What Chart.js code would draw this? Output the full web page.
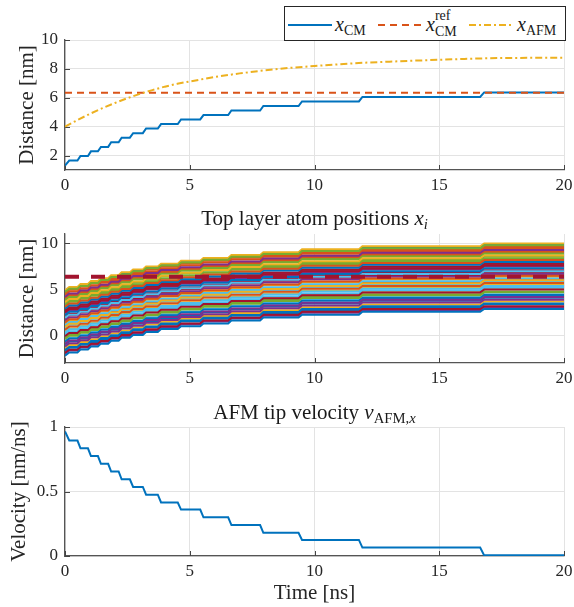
<!DOCTYPE html>
<html>
<head>
<meta charset="utf-8">
<script src="https://cdn.jsdelivr.net/npm/chart.js@4"></script>
<style>
  body { margin: 0; background: #fff; }
  #wrap { position: relative; width: 574px; height: 607px; font-family: "Liberation Serif", serif; color: #1a1a1a; }
  canvas { position: absolute; left: 0; }
  .ttl { position: absolute; left: 65px; width: 499px; text-align: center; font-size: 21px; line-height: 24px; }
  .s { font-size: 0.7em; position: relative; top: 0.3em; }
  .sc { position: relative; display: inline-block; font-size: 0.7em; }
  .sc .dn { position: relative; top: 0.35em; }
  .sc .up { position: absolute; left: 0; top: -0.8em; }
  #legend { position: absolute; left: 284px; top: 6px; width: 280px; height: 33px; border: 1px solid #262626; background: #fff; z-index: 2; }
  #legend svg { position: absolute; top: 16px; }
  #legend .lg { position: absolute; top: 7px; font-size: 20px; line-height: 20px; white-space: nowrap; }
</style>
</head>
<body>
<div id="wrap">
  <canvas id="c1" width="574" height="200" style="top:0"></canvas>
  <canvas id="c2" width="574" height="193" style="top:200px"></canvas>
  <canvas id="c3" width="574" height="214" style="top:393px"></canvas>

  <div id="legend">
    <svg style="left:3px" width="44" height="4"><line x1="0" y1="2" x2="44" y2="2" stroke="#0072BD" stroke-width="2"/></svg>
    <span class="lg" style="left:50px"><i>x</i><span class="s">CM</span></span>
    <svg style="left:93px" width="44" height="4"><line x1="0" y1="2" x2="44" y2="2" stroke="#D95319" stroke-width="2" stroke-dasharray="7 5"/></svg>
    <span class="lg" style="left:141px"><i>x</i><span class="sc"><span class="up">ref</span><span class="dn">CM</span></span></span>
    <svg style="left:184px" width="44" height="4"><line x1="0" y1="2" x2="44" y2="2" stroke="#EDB120" stroke-width="2" stroke-dasharray="7 3 2 3"/></svg>
    <span class="lg" style="left:232px"><i>x</i><span class="s">AFM</span></span>
  </div>

  <div class="ttl" style="top:206px">Top layer atom positions <i>x</i><span class="s"><i>i</i></span></div>
  <div class="ttl" style="top:400px">AFM tip velocity <i>v</i><span class="s">AFM,<i>x</i></span></div>
</div>

<script>
// step times of the AFM tip / CM jumps (start and end of each ramp), ns
const stepOn  = [0.00, 0.50, 0.92, 1.32, 1.73, 2.15, 2.60, 3.12, 3.72, 4.52, 5.42, 6.54, 7.82, 9.36, 11.78, 16.64];
const stepOff = [0.17, 0.62, 1.04, 1.44, 1.85, 2.27, 2.73, 3.25, 3.85, 4.65, 5.55, 6.67, 7.95, 9.50, 11.92, 16.80];

// centre of mass level between steps, nm
const cmLevels = [1.30, 1.65, 1.97, 2.29, 2.60, 2.92, 3.24, 3.55, 3.87, 4.18, 4.50, 4.80, 5.12, 5.43, 5.75, 6.06, 6.37];
// tip velocity level between steps, nm/ns
const velLevels = [0.965, 0.895, 0.835, 0.775, 0.715, 0.655, 0.595, 0.535, 0.475, 0.415, 0.360, 0.300, 0.240, 0.180, 0.125, 0.065, 0.005];

const xRef = 6.35;

const afmTime = [0, 0.5, 1, 1.5, 2, 2.5, 3, 3.5, 4, 4.5, 5, 6, 7, 8, 9, 10, 11, 12, 13, 14, 15, 16, 17, 18, 19, 20];
const afmPos  = [4.0, 4.46, 4.89, 5.28, 5.64, 5.97, 6.27, 6.53, 6.77, 6.97, 7.13, 7.44, 7.69, 7.90, 8.07, 8.20, 8.32, 8.43, 8.50, 8.57, 8.63, 8.69, 8.74, 8.76, 8.77, 8.78];

// initial positions of the top layer atoms, nm
const atomStart = [
  -2.2, 1.4, 3.6, -0.9, 4.7, 0.3, 2.5, -1.6, 3.1, 0.9,
  4.2, -0.4, 1.9, -1.9, 2.9, 0.6, 4.9, -1.2, 3.8, 1.1,
  -0.1, 2.2, 4.4, -1.4, 1.6, 3.3, 0.1, 2.7, -0.7, 4.0,
  1.3, -2.0, 3.5, 0.8, 2.0, -1.0, 4.6, 0.4, 2.4, -0.3,
  3.0, 1.8, -1.7, 4.1, 0.0, 2.6, 3.9, -0.6, 1.0, 4.8
];

const xTicks = [0, 5, 10, 15, 20];
const yTicksTop = [2, 4, 6, 8, 10];
const yTicksMid = [0, 5, 10];
const yTicksBot = [0, 0.5, 1];

const matlabColors = ["#0072BD", "#D95319", "#EDB120", "#7E2F8E", "#77AC30", "#4DBEEE", "#A2142F"];

function stepSeries(levels) {
  const pts = [{ x: 0, y: levels[0] }];
  for (let k = 0; k < stepOn.length; k++) {
    pts.push({ x: stepOn[k], y: levels[k] });
    pts.push({ x: stepOff[k], y: levels[k + 1] });
  }
  pts.push({ x: 20, y: levels[levels.length - 1] });
  return pts;
}

const fontTick = { family: "Liberation Serif", size: 17 };
const fontLabel = { family: "Liberation Serif", size: 21 };

// MATLAB style ticks pointing into the axes
const innerTicks = {
  id: "innerTicks",
  beforeDatasetsDraw(chart) {
    const { ctx, chartArea: a, scales } = chart;
    ctx.save();
    ctx.strokeStyle = "#444";
    ctx.lineWidth = 1;
    ctx.beginPath();
    scales.x.ticks.forEach((t) => {
      const px = Math.round(scales.x.getPixelForValue(t.value)) + 0.5;
      ctx.moveTo(px, a.bottom);
      ctx.lineTo(px, a.bottom - 5);
    });
    scales.y.ticks.forEach((t) => {
      const py = Math.round(scales.y.getPixelForValue(t.value)) + 0.5;
      ctx.moveTo(a.left, py);
      ctx.lineTo(a.left + 5, py);
    });
    ctx.stroke();
    ctx.restore();
  },
};

function makeOptions(o) {
  return {
    responsive: false,
    animation: false,
    layout: { padding: { top: o.padTop, right: 10, left: 0, bottom: 0 } },
    plugins: { legend: { display: false }, tooltip: { enabled: false } },
    elements: { point: { radius: 0 }, line: { tension: 0 } },
    scales: {
      x: {
        type: "linear",
        min: 0,
        max: 20,
        afterBuildTicks: (s) => { s.ticks = xTicks.map((v) => ({ value: v })); },
        afterFit: (s) => { s.height = o.xHeight; s.paddingLeft = 0; s.paddingRight = 0; },
        grid: { color: "#e3e3e3", drawTicks: false },
        border: { color: "#555", width: 1.3 },
        ticks: { font: fontTick, color: "#262626", padding: 5, autoSkip: false, maxRotation: 0, callback: (v) => String(v) },
        title: o.xTitle
          ? { display: true, text: o.xTitle, font: fontLabel, color: "#262626", padding: { top: 0, bottom: 0.5 } }
          : { display: false },
      },
      y: {
        type: "linear",
        min: o.yMin,
        max: o.yMax,
        afterBuildTicks: (s) => { s.ticks = o.yTicks.map((v) => ({ value: v })); },
        afterFit: (s) => { s.width = 65; },
        grid: { color: "#e3e3e3", drawTicks: false },
        border: { color: "#555", width: 1.3 },
        ticks: { font: fontTick, color: "#262626", padding: 7, callback: (v) => String(v) },
        title: { display: true, text: o.yTitle, font: fontLabel, color: "#262626", padding: { top: o.yTitlePad, bottom: 0 } },
      },
    },
  };
}

new Chart(document.getElementById("c1"), {
  type: "line",
  data: {
    datasets: [
      { data: afmTime.map((t, i) => ({ x: t, y: afmPos[i] })), borderColor: "#EDB120", borderWidth: 2, borderDash: [7, 3, 2, 3], order: 1 },
      { data: [{ x: 0, y: xRef }, { x: 20, y: xRef }], borderColor: "#D95319", borderWidth: 2, borderDash: [7, 5], order: 2 },
      { data: stepSeries(cmLevels), borderColor: "#0072BD", borderWidth: 2, order: 3 },
    ],
  },
  options: makeOptions({ padTop: 40, xHeight: 30, yMin: 1, yMax: 10, yTicks: yTicksTop, yTitle: "Distance [nm]", yTitlePad: 15 }),
  plugins: [innerTicks],
});

const atomSets = atomStart.map((x0, i) => ({
  data: stepSeries(cmLevels.map((c) => x0 + c - cmLevels[0])),
  borderColor: matlabColors[i % 7],
  borderWidth: 2,
  order: 1,
}));

new Chart(document.getElementById("c2"), {
  type: "line",
  data: {
    datasets: [
      { data: [{ x: 0, y: xRef }, { x: 20, y: xRef }], borderColor: "#A2142F", borderWidth: 4, borderDash: [14, 12], order: 0 },
      ...atomSets,
    ],
  },
  options: makeOptions({ padTop: 34, xHeight: 30, yMin: -3, yMax: 11, yTicks: yTicksMid, yTitle: "Distance [nm]", yTitlePad: 15 }),
  plugins: [innerTicks],
});

new Chart(document.getElementById("c3"), {
  type: "line",
  data: {
    datasets: [{ data: stepSeries(velLevels), borderColor: "#0072BD", borderWidth: 2 }],
  },
  options: makeOptions({ padTop: 34, xHeight: 51, yMin: 0, yMax: 1, yTicks: yTicksBot, yTitle: "Velocity [nm/ns]", yTitlePad: 7, xTitle: "Time [ns]" }),
  plugins: [innerTicks],
});
</script>
</body>
</html>
